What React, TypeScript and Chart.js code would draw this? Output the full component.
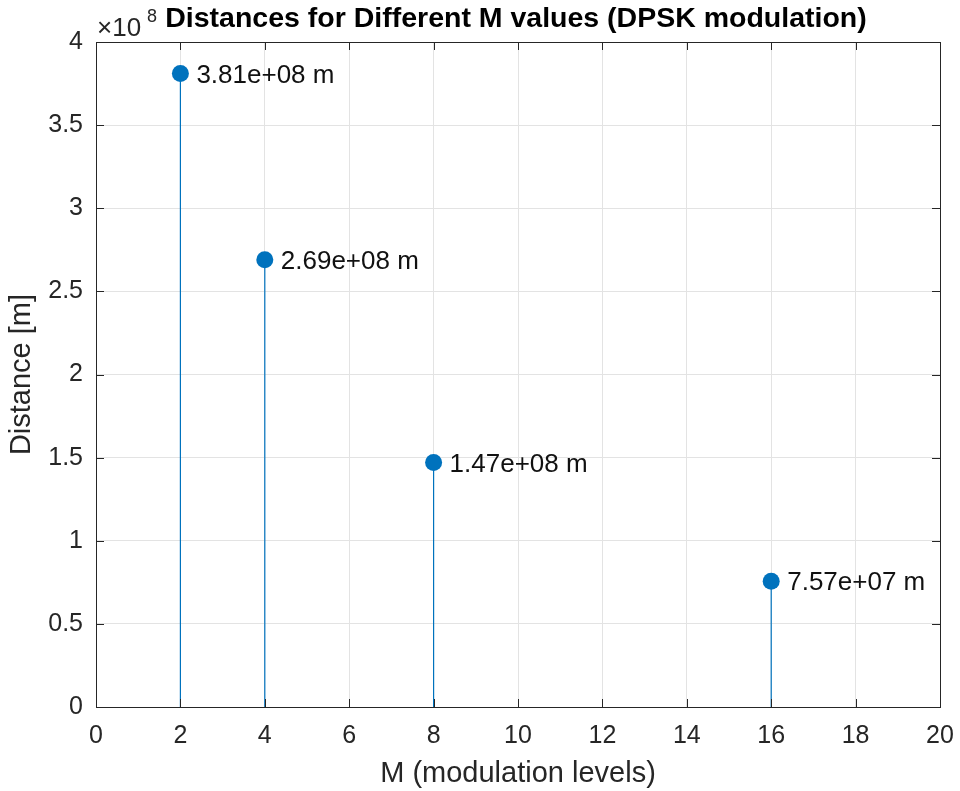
import React, { useEffect, useRef } from "react";
import { Chart, registerables } from "chart.js";

Chart.register(...registerables);

const mValues = [2, 4, 8, 16];
const distances = [3.81e8, 2.69e8, 1.47e8, 7.57e7];
const pointLabels = ["3.81e+08 m", "2.69e+08 m", "1.47e+08 m", "7.57e+07 m"];
const titleText = "Distances for Different M values (DPSK modulation)";
const xTitle = "M (modulation levels)";
const yTitle = "Distance [m]";

const FONT = "'Liberation Sans', Arial, Helvetica, sans-serif";
const AXIS = "#262626";
const BLUE = "#0072BD";

const decorPlugin = {
  id: "decor",
  afterDatasetsDraw(chart: any) {
    const { ctx, chartArea: a, scales } = chart;
    const xs = scales.x;
    const ys = scales.y;
    ctx.save();
    // inward ticks
    ctx.strokeStyle = AXIS;
    ctx.lineWidth = 1;
    const tl = 8;
    ctx.beginPath();
    xs.ticks.forEach((t: any) => {
      const px = Math.round(xs.getPixelForValue(t.value)) + 0.5;
      ctx.moveTo(px, a.bottom);
      ctx.lineTo(px, a.bottom - tl);
      ctx.moveTo(px, a.top);
      ctx.lineTo(px, a.top + tl);
    });
    ys.ticks.forEach((t: any) => {
      const py = Math.round(ys.getPixelForValue(t.value)) + 0.5;
      ctx.moveTo(a.left, py);
      ctx.lineTo(a.left + tl, py);
      ctx.moveTo(a.right, py);
      ctx.lineTo(a.right - tl, py);
    });
    ctx.stroke();
    // box
    ctx.strokeRect(Math.round(a.left) + 0.5, Math.round(a.top) + 0.5, Math.round(a.right - a.left), Math.round(a.bottom - a.top));

    // point labels
    ctx.fillStyle = "#111";
    ctx.font = `26px ${FONT}`;
    ctx.textAlign = "left";
    ctx.textBaseline = "middle";
    mValues.forEach((m, i) => {
      const px = xs.getPixelForValue(m);
      const py = ys.getPixelForValue(distances[i]);
      ctx.fillText(pointLabels[i], px + 16, py + 2);
    });

    // title
    ctx.fillStyle = "#000";
    ctx.font = `bold 28.5px ${FONT}`;
    ctx.textAlign = "center";
    ctx.textBaseline = "middle";
    ctx.fillText(titleText, (a.left + a.right) / 2 - 2, 19);

    // exponent
    ctx.fillStyle = AXIS;
    ctx.textAlign = "left";
    ctx.font = `26px ${FONT}`;
    ctx.fillText("\u00d710", a.left + 1, 29);
    ctx.font = `18px ${FONT}`;
    ctx.fillText("8", a.left + 51, 17);

    // axis titles
    ctx.font = `29px ${FONT}`;
    ctx.textAlign = "center";
    ctx.fillText(xTitle, (a.left + a.right) / 2, 774);
    ctx.save();
    ctx.translate(22, (a.top + a.bottom) / 2);
    ctx.rotate(-Math.PI / 2);
    ctx.fillText(yTitle, 0, 0);
    ctx.restore();
    ctx.restore();
  },
};

export default function App() {
  const ref = useRef<HTMLCanvasElement>(null);
  useEffect(() => {
    if (!ref.current) return;
    const stemData: any[] = [];
    mValues.forEach((m, i) => {
      stemData.push({ x: m, y: 0 });
      stemData.push({ x: m, y: distances[i] });
      stemData.push({ x: m, y: null });
    });
    const chart = new Chart(ref.current, {
      type: "scatter",
      data: {
        datasets: [
          {
            data: stemData,
            showLine: true,
            spanGaps: false,
            borderColor: BLUE,
            borderWidth: 1.2,
            pointRadius: 0,
            pointHoverRadius: 0,
          } as any,
          {
            data: mValues.map((m, i) => ({ x: m, y: distances[i] })),
            backgroundColor: BLUE,
            borderColor: BLUE,
            pointRadius: 8.5,
            pointBorderWidth: 0,
          },
        ],
      },
      options: {
        animation: false,
        responsive: false,
        maintainAspectRatio: false,
        layout: { padding: { left: 0, right: 20, top: 42, bottom: 0 } },
        plugins: { legend: { display: false }, tooltip: { enabled: false } },
        scales: {
          x: {
            type: "linear",
            min: 0,
            max: 20,
            ticks: { stepSize: 2, color: AXIS, font: { size: 25, family: FONT }, padding: 14, maxRotation: 0 },
            grid: { color: "#e3e3e3", drawTicks: false },
            border: { display: false },
            afterFit: (s: any) => {
              s.height = 84;
              s.paddingLeft = 0;
              s.paddingRight = 0;
            },
          },
          y: {
            type: "linear",
            min: 0,
            max: 4e8,
            ticks: {
              stepSize: 0.5e8,
              color: AXIS,
              font: { size: 25, family: FONT },
              padding: 13,
              callback: (v: any) => String(Math.round(Number(v) / 1e7) / 10),
            },
            grid: { color: "#e3e3e3", drawTicks: false },
            border: { display: false },
            afterFit: (s: any) => {
              s.width = 96;
              s.paddingTop = 0;
              s.paddingBottom = 0;
            },
          },
        },
      },
      plugins: [decorPlugin],
    });
    return () => chart.destroy();
  }, []);
  return (
    <div style={{ position: "fixed", left: 0, top: 0, width: 960, height: 791, background: "#fff" }}>
      <canvas ref={ref} width={960} height={791} style={{ display: "block" }} />
    </div>
  );
}
